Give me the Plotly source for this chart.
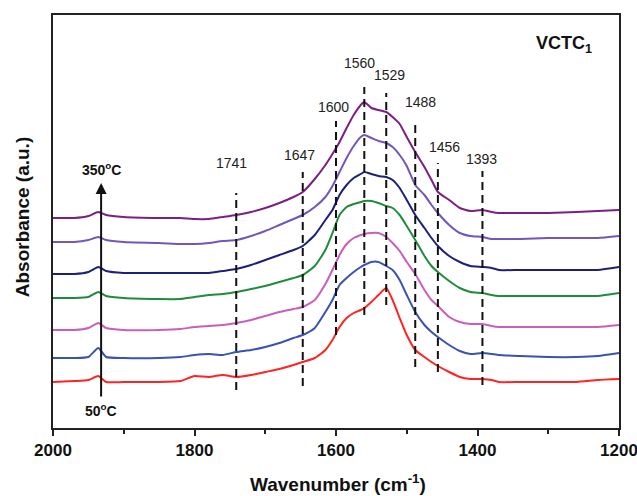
import plotly.graph_objects as go

# Wavenumber grid (cm-1) shared by all spectra
wavenumber = [2000, 1970, 1950, 1936, 1925, 1900, 1850, 1820, 1800, 1780, 1760, 1741,
              1720, 1700, 1680, 1660, 1647, 1630, 1615, 1605, 1595, 1585, 1575, 1565,
              1560, 1550, 1540, 1529, 1520, 1510, 1500, 1488, 1475, 1465, 1456, 1440,
              1425, 1410, 1393, 1380, 1370, 1340, 1300, 1260, 1230, 1200]

# Stacked absorbance spectra (a.u., offset) at increasing temperature
abs_50C = [0.50, 0.51, 0.52, 0.56, 0.50, 0.50, 0.50, 0.51, 0.56, 0.55, 0.57, 0.55,
           0.57, 0.60, 0.63, 0.67, 0.70, 0.74, 0.82, 0.92, 1.05, 1.14, 1.19, 1.22,
           1.24, 1.30, 1.37, 1.44, 1.32, 1.14, 0.97, 0.82, 0.75, 0.70, 0.66, 0.60,
           0.55, 0.53, 0.53, 0.52, 0.50, 0.50, 0.50, 0.50, 0.52, 0.53]
abs_100C = [0.74, 0.74, 0.75, 0.84, 0.75, 0.74, 0.74, 0.75, 0.77, 0.78, 0.77, 0.80,
            0.82, 0.85, 0.89, 0.94, 0.97, 1.04, 1.20, 1.32, 1.47, 1.54, 1.60, 1.65,
            1.67, 1.70, 1.70, 1.66, 1.62, 1.52, 1.37, 1.20, 1.07, 1.00, 0.95, 0.87,
            0.81, 0.78, 0.79, 0.78, 0.77, 0.76, 0.75, 0.75, 0.76, 0.79]
abs_150C = [1.02, 1.02, 1.04, 1.09, 1.04, 1.02, 1.02, 1.03, 1.05, 1.06, 1.07, 1.09,
            1.12, 1.16, 1.20, 1.23, 1.25, 1.32, 1.48, 1.62, 1.77, 1.88, 1.94, 1.97,
            1.98, 1.99, 1.99, 1.95, 1.89, 1.81, 1.70, 1.58, 1.42, 1.32, 1.26, 1.15,
            1.10, 1.08, 1.08, 1.06, 1.05, 1.05, 1.05, 1.05, 1.05, 1.07]
abs_200C = [1.34, 1.34, 1.35, 1.40, 1.36, 1.34, 1.33, 1.33, 1.35, 1.37, 1.38, 1.40,
            1.43, 1.46, 1.50, 1.54, 1.57, 1.66, 1.82, 1.99, 2.17, 2.25, 2.28, 2.30,
            2.31, 2.31, 2.29, 2.26, 2.24, 2.17, 2.06, 1.92, 1.76, 1.66, 1.60, 1.51,
            1.44, 1.40, 1.39, 1.37, 1.36, 1.36, 1.36, 1.36, 1.36, 1.39]
abs_250C = [1.58, 1.58, 1.60, 1.65, 1.61, 1.59, 1.59, 1.59, 1.59, 1.59, 1.61, 1.63,
            1.67, 1.72, 1.77, 1.82, 1.86, 1.97, 2.12, 2.22, 2.37, 2.47, 2.54, 2.58,
            2.60, 2.58, 2.56, 2.55, 2.52, 2.44, 2.32, 2.17, 2.04, 1.94, 1.86, 1.76,
            1.70, 1.66, 1.65, 1.64, 1.62, 1.62, 1.62, 1.62, 1.62, 1.65]
abs_300C = [1.90, 1.90, 1.92, 1.95, 1.92, 1.90, 1.89, 1.88, 1.88, 1.89, 1.91, 1.92,
            1.96, 2.01, 2.07, 2.13, 2.17, 2.25, 2.35, 2.46, 2.60, 2.74, 2.86, 2.95,
            2.97, 2.94, 2.91, 2.89, 2.85, 2.77, 2.66, 2.47, 2.37, 2.27, 2.19, 2.07,
            1.99, 1.96, 1.95, 1.93, 1.93, 1.93, 1.94, 1.94, 1.94, 1.96]
abs_350C = [2.14, 2.14, 2.16, 2.20, 2.17, 2.15, 2.14, 2.14, 2.13, 2.13, 2.15, 2.17,
            2.20, 2.24, 2.29, 2.35, 2.40, 2.53, 2.67, 2.78, 2.90, 3.04, 3.17, 3.27,
            3.30, 3.24, 3.22, 3.20, 3.15, 3.08, 2.95, 2.80, 2.65, 2.52, 2.40, 2.32,
            2.24, 2.21, 2.22, 2.20, 2.19, 2.19, 2.19, 2.20, 2.21, 2.22]

spectra = [abs_50C, abs_100C, abs_150C, abs_200C, abs_250C, abs_300C, abs_350C]
temperatures = ["50 °C", "100 °C", "150 °C", "200 °C", "250 °C", "300 °C", "350 °C"]
colors = ["#ff2424", "#3a52b2", "#c95fba", "#1f8c3b", "#1c2078", "#7356ba", "#7c1f82"]

# Band assignments marked with dashed guides
band_wn = [1741, 1647, 1600, 1560, 1529, 1488, 1456, 1393]
band_top = [2.39, 2.60, 3.11, 3.45, 3.39, 3.11, 2.69, 2.61]
band_bottom = [0.42, 0.46, 0.97, 1.17, 1.27, 0.65, 0.60, 0.47]
band_label_wn = [1748, 1652, 1604, 1567, 1525, 1480, 1447, 1394]
band_label_y = [2.69, 2.77, 3.25, 3.69, 3.57, 3.30, 2.85, 2.73]

FONT = "Liberation Sans, Arial, sans-serif"

fig = go.Figure()

for name, ys, col in zip(temperatures, spectra, colors):
    fig.add_trace(go.Scatter(
        x=wavenumber, y=ys, name=name, mode="lines",
        line=dict(color=col, width=2, shape="spline", smoothing=0.5),
        hoverinfo="x+y+name",
    ))

for wn, top, bot in zip(band_wn, band_top, band_bottom):
    fig.add_trace(go.Scatter(
        x=[wn, wn], y=[bot, top], mode="lines",
        line=dict(color="#111111", width=2, dash="8px,5px"),
        hoverinfo="skip", showlegend=False,
    ))

annotations = []
for wn, lx, ly in zip(band_wn, band_label_wn, band_label_y):
    annotations.append(dict(
        x=lx, y=ly, xref="x", yref="y", text=str(wn), showarrow=False,
        font=dict(family=FONT, size=14, color="#222222"),
        xanchor="center", yanchor="middle",
    ))

# Temperature arrow
annotations.append(dict(
    x=1932, y=2.49, ax=1932, ay=0.34, xref="x", yref="y", axref="x", ayref="y",
    text="", showarrow=True, arrowhead=2, arrowsize=1.1, arrowwidth=2,
    arrowcolor="#111111", standoff=0, startstandoff=0,
))
annotations.append(dict(
    x=1932, y=2.63, xref="x", yref="y", text="350<sup>o</sup>C", showarrow=False,
    font=dict(family=FONT, size=14, color="#111111", weight="bold"),
    xanchor="center", yanchor="middle",
))
annotations.append(dict(
    x=1932, y=0.22, xref="x", yref="y", text="50<sup>o</sup>C", showarrow=False,
    font=dict(family=FONT, size=14, color="#111111", weight="bold"),
    xanchor="center", yanchor="middle",
))

# Sample label
annotations.append(dict(
    x=0.903, y=0.928, xref="paper", yref="paper", text="VCTC<sub>1</sub>",
    showarrow=False, font=dict(family=FONT, size=18, color="#111111", weight="bold"),
    xanchor="center", yanchor="middle",
))

# Axis titles
annotations.append(dict(
    x=0.504, y=-0.132, xref="paper", yref="paper", text="Wavenumber (cm<sup>-1</sup>)",
    showarrow=False, font=dict(family=FONT, size=19, color="#111111", weight="bold"),
    xanchor="center", yanchor="middle",
))
annotations.append(dict(
    x=-0.055, y=0.51, xref="paper", yref="paper", text="Absorbance (a.u.)",
    showarrow=False, textangle=-90,
    font=dict(family=FONT, size=19, color="#111111", weight="bold"),
    xanchor="center", yanchor="middle",
))

fig.update_layout(
    width=637, height=496,
    margin=dict(l=53, r=18, t=15, b=68, autoexpand=False),
    paper_bgcolor="white", plot_bgcolor="white",
    showlegend=False,
    annotations=annotations,
    xaxis=dict(
        range=[2000, 1200], tickmode="array", tickvals=[2000, 1800, 1600, 1400, 1200],
        ticks="outside", ticklen=6, tickwidth=1.5, tickcolor="#222222",
        ticklabeloverflow="allow", automargin=False,
        minor=dict(tickmode="array", tickvals=[1900, 1700, 1500, 1300],
                   ticks="outside", ticklen=4, tickwidth=1.5, tickcolor="#222222"),
        showline=True, linecolor="#222222", linewidth=1.6, mirror=True,
        showgrid=False, zeroline=False,
        tickfont=dict(family=FONT, size=17, color="#111111", weight="bold"),
    ),
    yaxis=dict(
        range=[0.04, 4.17], showticklabels=False, ticks="", automargin=False,
        showline=True, linecolor="#222222", linewidth=1.6, mirror=True,
        showgrid=False, zeroline=False,
    ),
)

fig.write_html("out.html")
